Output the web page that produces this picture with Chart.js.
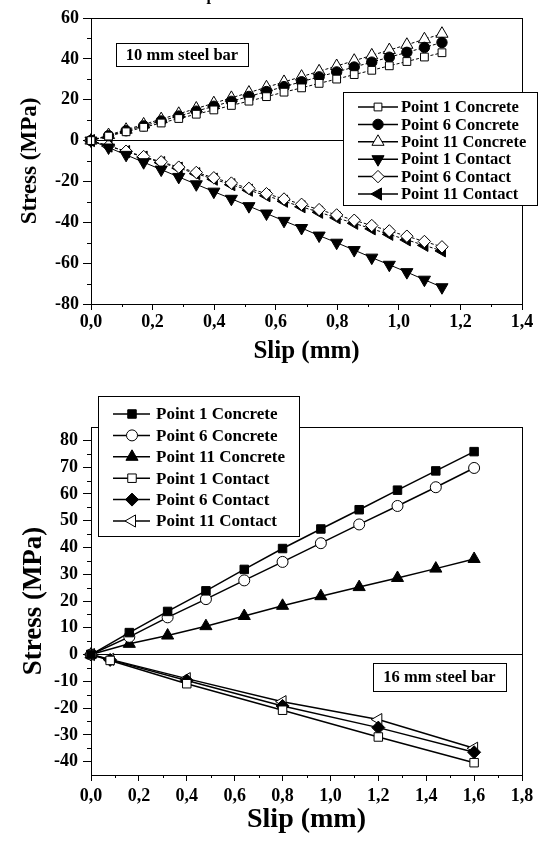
<!DOCTYPE html>
<html>
<head>
<meta charset="utf-8">
<script src="https://cdn.jsdelivr.net/npm/chart.js@4.4.1/dist/chart.umd.min.js"></script>
<style>
  html, body { margin: 0; padding: 0; background: #fff; }
  #wrap { position: relative; width: 538px; height: 848px; overflow: hidden; }
  canvas { position: absolute; left: 0; }
</style>
</head>
<body>
<div id="wrap">
  <canvas id="chart-10mm" width="538" height="370" style="top:0;width:538px;height:370px"></canvas>
  <canvas id="chart-16mm" width="538" height="478" style="top:370px;width:538px;height:478px"></canvas>
</div>
<script>
// ---- Datos: barra de 10 mm ----
var slip10 = [0, 0.057, 0.114, 0.171, 0.228, 0.285, 0.342, 0.399, 0.456, 0.513, 0.57,
              0.627, 0.684, 0.741, 0.798, 0.855, 0.912, 0.969, 1.026, 1.083, 1.14];
var p1Concrete10 = [0, 2.2, 4.3, 6.5, 8.6, 10.8, 12.9, 15.0, 17.2, 19.3, 21.5,
                    23.7, 25.8, 28.0, 30.1, 32.3, 34.4, 36.6, 38.7, 40.9, 43.0];
var p6Concrete10 = [0, 2.4, 4.8, 7.2, 9.6, 12.0, 14.4, 16.8, 19.2, 21.6, 24.0,
                    26.4, 28.8, 31.2, 33.6, 36.0, 38.4, 40.8, 43.2, 45.6, 48.0];
var p11Concrete10 = [0, 2.7, 5.3, 7.9, 10.5, 13.1, 15.7, 18.3, 20.9, 23.5, 26.1,
                     28.7, 31.3, 33.9, 36.5, 39.1, 41.7, 44.3, 46.9, 49.6, 52.3];
var p1Contact10 = [0, -3.4, -7.0, -10.6, -14.2, -17.8, -21.4, -25.0, -28.5, -32.1, -35.7,
                   -39.3, -42.8, -46.5, -50.0, -53.6, -57.3, -60.8, -64.4, -68.1, -71.8];
var p6Contact10 = [0, -2.6, -5.2, -7.8, -10.4, -13.0, -15.6, -18.2, -20.8, -23.4, -26.0,
                   -28.6, -31.2, -33.8, -36.4, -39.0, -41.6, -44.2, -46.8, -49.4, -52.0];
var p11Contact10 = [0, -2.7, -5.4, -8.1, -10.8, -13.5, -16.2, -18.9, -21.6, -24.3, -27.0,
                    -29.7, -32.4, -35.1, -37.8, -40.5, -43.2, -45.9, -48.6, -51.3, -54.0];
var xTicks10 = [0, 0.2, 0.4, 0.6, 0.8, 1.0, 1.2, 1.4];
var yTicks10 = [-80, -60, -40, -20, 0, 20, 40, 60];

// ---- Datos: barra de 16 mm ----
var slip16Concrete = [0, 0.16, 0.32, 0.48, 0.64, 0.80, 0.96, 1.12, 1.28, 1.44, 1.60];
var p1Concrete16 = [0, 8.2, 16.1, 23.8, 31.8, 39.6, 46.9, 54.1, 61.4, 68.6, 75.8];
var p6Concrete16 = [0, 6.6, 13.9, 20.7, 27.7, 34.6, 41.6, 48.6, 55.5, 62.5, 69.7];
var p11Concrete16 = [0, 4.0, 7.1, 10.6, 14.4, 18.2, 21.8, 25.2, 28.6, 32.1, 35.7];
var slip16Contact = [0, 0.08, 0.4, 0.8, 1.2, 1.6];
var p1Contact16 = [0, -2.2, -10.9, -20.8, -30.8, -40.4];
var p6Contact16 = [0, -2.0, -9.7, -19.2, -27.3, -36.5];
var p11Contact16 = [0, -1.8, -9.0, -17.6, -24.3, -35.0];
var xTicks16 = [0, 0.2, 0.4, 0.6, 0.8, 1.0, 1.2, 1.4, 1.6, 1.8];
var yTicks16 = [-40, -30, -20, -10, 0, 10, 20, 30, 40, 50, 60, 70, 80];

var SERIF = '"Liberation Serif", "Times New Roman", serif';

function puntos(xs, ys) {
  return xs.map(function(x, i) { return { x: x, y: ys[i] }; });
}

// Crea un dataset de línea con marcador
function serie(label, xs, ys, estilo) {
  return {
    label: label,
    data: puntos(xs, ys),
    borderColor: '#000',
    borderWidth: estilo.lineWidth,
    borderDash: estilo.dash || [],
    pointStyle: estilo.shape,
    pointRotation: estilo.rot || 0,
    pointRadius: estilo.r,
    pointHoverRadius: estilo.r,
    pointBackgroundColor: estilo.fill,
    pointBorderColor: '#000',
    pointBorderWidth: 1,
    tension: 0,
    fill: false,
    clip: false
  };
}

// Dibuja un marcador igual que Chart.js
function marcador(ctx, ds, x, y) {
  ctx.fillStyle = ds.pointBackgroundColor;
  ctx.strokeStyle = '#000';
  ctx.lineWidth = 1;
  Chart.helpers.drawPoint(ctx, {
    pointStyle: ds.pointStyle, rotation: ds.pointRotation,
    radius: ds.pointRadius, borderWidth: 1
  }, x, y);
}

// Plugin: marco, ticks menores, leyenda con recuadro y etiqueta
function pluginMarco(cfg) {
  return {
    id: 'marco',
    afterDraw: function(chart) {
      var ctx = chart.ctx;
      var a = chart.chartArea;
      var xs = chart.scales.x, ys = chart.scales.y;
      ctx.save();
      ctx.strokeStyle = '#000';
      ctx.lineWidth = 1;
      ctx.strokeRect(Math.round(a.left) + 0.5, Math.round(a.top) + 0.5,
                     Math.round(a.right - a.left), Math.round(a.bottom - a.top));

      // ticks menores a mitad de cada intervalo
      ctx.beginPath();
      for (var i = 0; i < cfg.yTicks.length - 1; i++) {
        var py = Math.round(ys.getPixelForValue((cfg.yTicks[i] + cfg.yTicks[i + 1]) / 2)) + 0.5;
        ctx.moveTo(a.left - 4, py); ctx.lineTo(a.left, py);
      }
      for (var j = 0; j < cfg.xTicks.length - 1; j++) {
        var px = Math.round(xs.getPixelForValue((cfg.xTicks[j] + cfg.xTicks[j + 1]) / 2)) + 0.5;
        ctx.moveTo(px, a.bottom); ctx.lineTo(px, a.bottom + 3);
      }
      ctx.stroke();

      // leyenda
      var L = cfg.legend;
      ctx.fillStyle = '#fff';
      ctx.fillRect(L.x, L.y, L.w, L.h);
      ctx.strokeRect(L.x + 0.5, L.y + 0.5, L.w, L.h);
      ctx.font = 'bold ' + L.size + 'px ' + SERIF;
      ctx.textBaseline = 'middle';
      ctx.textAlign = 'left';
      chart.data.datasets.forEach(function(ds, k) {
        var yy = L.row0 + k * L.gap;
        ctx.strokeStyle = '#000';
        ctx.lineWidth = L.lineWidth;
        ctx.beginPath();
        ctx.moveTo(L.line0, yy); ctx.lineTo(L.line1, yy);
        ctx.stroke();
        marcador(ctx, ds, L.mark, yy);
        ctx.fillStyle = '#000';
        ctx.fillText(ds.label, L.text, yy + 1);
      });

      // recuadro con el diámetro de la barra
      var B = cfg.box;
      ctx.lineWidth = 1;
      ctx.strokeStyle = '#000';
      ctx.fillStyle = '#fff';
      ctx.fillRect(B.x, B.y, B.w, B.h);
      ctx.strokeRect(B.x + 0.5, B.y + 0.5, B.w, B.h);
      ctx.fillStyle = '#000';
      ctx.font = 'bold ' + B.size + 'px ' + SERIF;
      ctx.textAlign = 'center';
      ctx.fillText(B.text, B.x + B.w / 2, B.y + B.h / 2 + 1);

      if (cfg.extra) cfg.extra(ctx);
      ctx.restore();
    }
  };
}

function opcionesEjes(c) {
  return {
    x: {
      type: 'linear',
      min: c.xMin, max: c.xMax,
      afterBuildTicks: function(axis) { axis.ticks = c.xTicks.map(function(v) { return { value: v }; }); },
      afterFit: function(axis) { axis.height = c.xHeight; axis.paddingLeft = 0; axis.paddingRight = 0; },
      ticks: {
        autoSkip: false, maxRotation: 0, padding: c.xPad, color: '#000',
        font: { family: SERIF, size: c.tickSize, weight: 'bold' },
        callback: function(v) { return v.toFixed(1).replace('.', ','); }
      },
      grid: { color: 'rgba(0,0,0,0)', tickColor: '#000', tickLength: 6, lineWidth: 1 },
      border: { display: true, color: '#000', width: 1 },
      title: {
        display: true, text: 'Slip (mm)', color: '#000',
        font: { family: SERIF, size: c.xTitleSize, weight: 'bold', lineHeight: 1 },
        padding: { top: 0, bottom: c.xTitlePad }
      }
    },
    y: {
      type: 'linear',
      min: c.yMin, max: c.yMax,
      afterBuildTicks: function(axis) { axis.ticks = c.yTicks.map(function(v) { return { value: v }; }); },
      afterFit: function(axis) { axis.width = 91; axis.paddingTop = 0; axis.paddingBottom = 0; },
      ticks: {
        autoSkip: false, padding: c.yPad, color: '#000',
        font: { family: SERIF, size: c.tickSize, weight: 'bold' },
        callback: function(v) { return String(v); }
      },
      grid: {
        color: function(ctx) { return ctx.tick && ctx.tick.value === 0 ? '#000' : 'rgba(0,0,0,0)'; },
        tickColor: '#000', tickLength: 8, lineWidth: 1
      },
      border: { display: true, color: '#000', width: 1 },
      title: {
        display: true, text: 'Stress (MPa)', color: '#000',
        font: { family: SERIF, size: c.yTitleSize, weight: 'bold', lineHeight: 1 },
        padding: { top: c.yTitlePad, bottom: 0 }
      }
    }
  };
}

// ---- Gráfico superior: 10 mm ----
var ds10 = [
  serie('Point 1 Concrete', slip10, p1Concrete10, { shape: 'rect', r: 5.5, fill: '#fff', lineWidth: 1, dash: [3, 2] }),
  serie('Point 6 Concrete', slip10, p6Concrete10, { shape: 'circle', r: 5.2, fill: '#000', lineWidth: 1, dash: [3, 2] }),
  serie('Point 11 Concrete', slip10, p11Concrete10, { shape: 'triangle', r: 7, fill: '#fff', lineWidth: 1, dash: [3, 2] }),
  serie('Point 1 Contact', slip10, p1Contact10, { shape: 'triangle', rot: 180, r: 7, fill: '#000', lineWidth: 1 }),
  serie('Point 6 Contact', slip10, p6Contact10, { shape: 'rectRot', r: 6.2, fill: '#fff', lineWidth: 1, dash: [3, 2] }),
  serie('Point 11 Contact', slip10, p11Contact10, { shape: 'triangle', rot: -90, r: 7, fill: '#000', lineWidth: 1, dash: [3, 2] })
];

new Chart(document.getElementById('chart-10mm'), {
  type: 'line',
  data: { datasets: ds10 },
  options: {
    responsive: false,
    animation: false,
    events: [],
    layout: { padding: { top: 18, right: 16, left: 0, bottom: 0 } },
    plugins: { legend: { display: false }, tooltip: { enabled: false } },
    scales: opcionesEjes({
      xMin: 0, xMax: 1.4, xTicks: xTicks10, yMin: -80, yMax: 60, yTicks: yTicks10,
      xHeight: 66, xPad: 2, yPad: 4, tickSize: 18,
      xTitleSize: 25, xTitlePad: 6, yTitleSize: 23, yTitlePad: 19
    })
  },
  plugins: [pluginMarco({
    xTicks: xTicks10, yTicks: yTicks10,
    legend: { x: 343, y: 92, w: 194, h: 113, row0: 107, gap: 17.4,
              line0: 358, line1: 398, mark: 378, text: 401, size: 16.5, lineWidth: 1.5 },
    box: { x: 116, y: 43, w: 132, h: 23, text: '10 mm steel bar', size: 16.5 },
    extra: function(ctx) {
      // fragmento del título recortado en el borde superior
      ctx.font = 'bold 16px ' + SERIF;
      ctx.textAlign = 'center';
      ctx.textBaseline = 'alphabetic';
      ctx.fillText('p', 211, 0);
    }
  })]
});

// ---- Gráfico inferior: 16 mm ----
var ds16 = [
  serie('Point 1 Concrete', slip16Concrete, p1Concrete16, { shape: 'rect', r: 6, fill: '#000', lineWidth: 1.5 }),
  serie('Point 6 Concrete', slip16Concrete, p6Concrete16, { shape: 'circle', r: 5.5, fill: '#fff', lineWidth: 1.5 }),
  serie('Point 11 Concrete', slip16Concrete, p11Concrete16, { shape: 'triangle', r: 7, fill: '#000', lineWidth: 1.5 }),
  serie('Point 1 Contact', slip16Contact, p1Contact16, { shape: 'rect', r: 6, fill: '#fff', lineWidth: 1.5 }),
  serie('Point 6 Contact', slip16Contact, p6Contact16, { shape: 'rectRot', r: 6.5, fill: '#000', lineWidth: 1.5 }),
  serie('Point 11 Contact', slip16Contact, p11Contact16, { shape: 'triangle', rot: -90, r: 7, fill: '#fff', lineWidth: 1.5 })
];

new Chart(document.getElementById('chart-16mm'), {
  type: 'line',
  data: { datasets: ds16 },
  options: {
    responsive: false,
    animation: false,
    events: [],
    layout: { padding: { top: 57, right: 16, left: 0, bottom: 0 } },
    plugins: { legend: { display: false }, tooltip: { enabled: false } },
    scales: opcionesEjes({
      xMin: 0, xMax: 1.8, xTicks: xTicks16, yMin: -45, yMax: 85, yTicks: yTicks16,
      xHeight: 73, xPad: 5, yPad: 5, tickSize: 18,
      xTitleSize: 28, xTitlePad: 14, yTitleSize: 27, yTitlePad: 21
    })
  },
  plugins: [pluginMarco({
    xTicks: xTicks16, yTicks: yTicks16,
    legend: { x: 98, y: 26, w: 201, h: 140, row0: 44, gap: 21.4,
              line0: 113, line1: 150, mark: 132, text: 156, size: 17, lineWidth: 1.5 },
    box: { x: 373, y: 293, w: 133, h: 28, text: '16 mm steel bar', size: 16.5 }
  })]
});
</script>
</body>
</html>
